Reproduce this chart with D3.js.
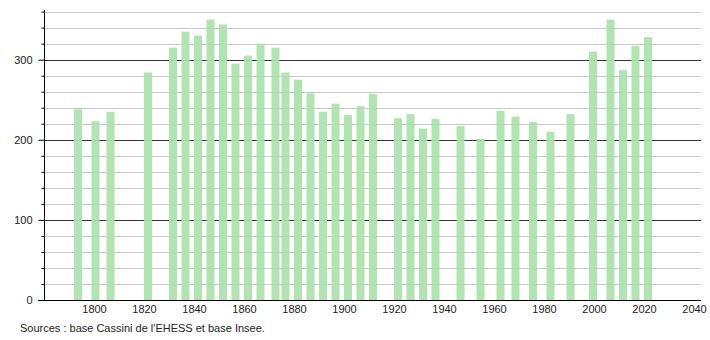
<!DOCTYPE html>
<html>
<head>
<meta charset="utf-8">
<script src="https://cdn.jsdelivr.net/npm/d3@7"></script>
<style>
  body { margin: 0; background: #fff; }
  svg text { font-family: "Liberation Sans", Arial, sans-serif; font-size: 11px; fill: #222; }
</style>
</head>
<body>
<div id="chart"></div>
<script>
// census years and population
var years = [1793, 1800, 1806, 1821, 1831, 1836, 1841, 1846, 1851, 1856, 1861, 1866,
  1872, 1876, 1881, 1886, 1891, 1896, 1901, 1906, 1911, 1921, 1926, 1931, 1936,
  1946, 1954, 1962, 1968, 1975, 1982, 1990, 1999, 2006, 2011, 2016, 2021];
var population = [238, 223, 235, 284, 315, 335, 330, 350, 344, 295, 305, 320,
  315, 284, 275, 258, 235, 245, 231, 242, 257, 227, 232, 214, 226,
  217, 201, 236, 229, 222, 210, 232, 310, 350, 287, 317, 328];
var xTicks = [1800, 1820, 1840, 1860, 1880, 1900, 1920, 1940, 1960, 1980, 2000, 2020, 2040];
var yLabels = [0, 100, 200, 300];
var source = "Sources : base Cassini de l'EHESS et base Insee.";

var width = 710, height = 340;
var plot = { left: 44, right: 701, top: 10, bottom: 300 };

var svg = d3.select("#chart").append("svg")
  .attr("width", width)
  .attr("height", height);

var x = d3.scaleLinear().domain([1780, 2042.8]).range([plot.left, plot.right]);
var y = d3.scaleLinear().domain([0, 362]).range([plot.bottom, plot.top]);

// horizontal grid, every 20
var grid = d3.range(20, 361, 20);
svg.append("g").selectAll("line")
  .data(grid)
  .enter().append("line")
  .attr("x1", plot.left).attr("x2", plot.right)
  .attr("y1", function (d) { return Math.round(y(d)) + 0.5; })
  .attr("y2", function (d) { return Math.round(y(d)) + 0.5; })
  .attr("stroke", function (d) { return d % 100 == 0 ? "#333" : "#c8c8c8"; })
  .attr("stroke-width", 1);

// bars
svg.append("g").selectAll("rect")
  .data(years)
  .enter().append("rect")
  .attr("x", function (d) { return x(d) - 2.5; })
  .attr("width", 8)
  .attr("y", function (d, i) { return y(population[i]); })
  .attr("height", function (d, i) { return y(0) - y(population[i]); })
  .attr("fill", "#a9e2a9")
  .attr("fill-opacity", 0.92);

// y axis
var yAxis = d3.axisLeft(y)
  .tickValues(d3.range(0, 361, 20))
  .tickSize(0)
  .tickFormat(function (d) { return yLabels.indexOf(d) >= 0 ? d : ""; });

var gy = svg.append("g")
  .attr("transform", "translate(" + (plot.left + 0.5) + ",0)")
  .call(yAxis);
gy.select(".domain").remove();
gy.selectAll(".tick line")
  .attr("x2", function (d) { return d % 100 == 0 ? -6 : -3; })
  .attr("stroke", "#000");
gy.selectAll(".tick text").attr("x", -12).attr("fill", "#222");
gy.append("line")
  .attr("x1", 0).attr("x2", 0)
  .attr("y1", plot.top).attr("y2", plot.bottom)
  .attr("stroke", "#000");

// x axis
var xAxis = d3.axisBottom(x)
  .tickValues(xTicks)
  .tickSize(0)
  .tickFormat(d3.format("d"));

var gx = svg.append("g")
  .attr("transform", "translate(0," + (plot.bottom + 0.5) + ")")
  .call(xAxis);
gx.select(".domain").remove();
gx.selectAll(".tick text").attr("y", 5).attr("fill", "#222");
gx.append("line")
  .attr("x1", plot.left - 6).attr("x2", plot.right)
  .attr("y1", 0).attr("y2", 0)
  .attr("stroke", "#000");

svg.append("text")
  .attr("x", 20)
  .attr("y", 332)
  .text(source);
</script>
</body>
</html>
